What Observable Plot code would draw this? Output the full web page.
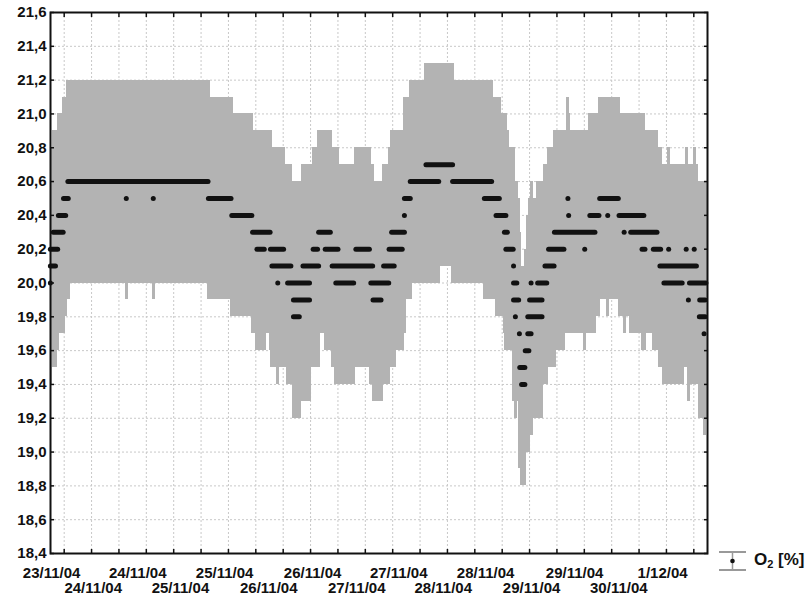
<!DOCTYPE html>
<html>
<head>
<meta charset="utf-8">
<script src="https://cdn.jsdelivr.net/npm/d3@7"></script>
<script src="https://cdn.jsdelivr.net/npm/@observablehq/plot@0.6"></script>
<style>
  html, body { margin: 0; padding: 0; background: #fff; }
  #wrap { position: relative; width: 807px; height: 597px; font-family: "Liberation Sans", Arial, sans-serif; }
  #legend { position: absolute; left: 718px; top: 549px; display: flex; align-items: center; font-size: 17px; font-weight: bold; color: #111; }
  #legend svg { margin-right: 6px; }
  #legend sub { font-size: 11px; vertical-align: -3px; }
</style>
</head>
<body>
<div id="wrap"></div>
<script>
// ---- Data (x = hours since the start of the record, y = O2 [%]) ----
// Runs of consecutive samples at each O2 level: [start hour, end hour]
const o2_20_7 = [[103.0, 110.3]];
const o2_20_6 = [[4.9, 43.3], [98.7, 106.5], [110.3, 121.0]];
const o2_20_5 = [[3.7, 5.0], [20.9, 20.9], [28.3, 28.3], [43.4, 49.6], [97.1, 98.7], [119.0, 123.1], [141.9, 141.9], [150.6, 155.7]];
const o2_20_4 = [[2.3, 4.3], [49.8, 55.3], [97.1, 97.1], [122.2, 124.9], [142.1, 142.1], [147.9, 150.4], [152.8, 152.8], [155.9, 162.7]];
const o2_20_3 = [[0.9, 3.6], [55.5, 60.3], [73.6, 76.8], [93.6, 97.1], [124.5, 125.3], [138.2, 149.3], [157.3, 157.3], [159.1, 166.3]];
const o2_20_2 = [[0.1, 2.1], [56.7, 58.7], [60.4, 64.0], [72.1, 73.3], [75.4, 78.9], [83.8, 87.5], [92.9, 96.5], [124.9, 126.9], [136.6, 140.8], [146.5, 146.5], [162.2, 163.0], [165.3, 167.3], [169.5, 169.5], [174.3, 174.3], [176.5, 176.5]];
const o2_20_1 = [[0.1, 1.5], [60.8, 66.0], [69.3, 73.6], [77.3, 88.4], [91.4, 94.3], [127.0, 127.0], [135.6, 138.1], [167.1, 177.1]];
const o2_20_0 = [[0.1, 0.1], [62.4, 62.4], [65.1, 71.1], [78.3, 83.2], [87.9, 92.8], [127.0, 127.9], [131.8, 131.8], [133.6, 136.1], [168.2, 173.2], [175.2, 179.7]];
const o2_19_9 = [[66.7, 71.1], [88.5, 90.7], [127.0, 128.4], [131.4, 134.8], [174.9, 174.9], [178.0, 179.5]];
const o2_19_8 = [[66.7, 68.3], [127.5, 127.5], [130.9, 134.8], [177.9, 179.5]];
const o2_19_7 = [[128.6, 128.6], [130.9, 131.8], [179.2, 179.2]];
const o2_19_6 = [[130.2, 131.2]];
const o2_19_5 = [[128.7, 130.1]];
const o2_19_4 = [[129.2, 130.1]];

// error-bar half width (O2 %)
const o2Error = 0.6;

const xDomain = [0, 180];
const yDomain = [18.4, 21.6];
const yTicks = [18.4, 18.6, 18.8, 19.0, 19.2, 19.4, 19.6, 19.8, 20.0, 20.2, 20.4, 20.6, 20.8, 21.0, 21.2, 21.4, 21.6];
const xTicks = [3.75, 11.25, 18.75, 26.25, 33.75, 41.25, 48.75, 56.25, 63.75, 71.25, 78.75, 86.25,
                93.75, 101.25, 108.75, 116.25, 123.75, 131.25, 138.75, 146.25, 153.75, 161.25, 168.75, 176.25];
const xLabelTopPos = [0.3, 23.9, 47.7, 71.8, 95.4, 119.2, 143.6, 167.7];
const xLabelTopText = ["23/11/04", "24/11/04", "25/11/04", "26/11/04", "27/11/04", "28/11/04", "29/11/04", "1/12/04"];
const xLabelBottomPos = [11.7, 35.6, 59.8, 83.9, 107.6, 131.8, 155.7];
const xLabelBottomText = ["24/11/04", "25/11/04", "26/11/04", "27/11/04", "28/11/04", "29/11/04", "30/11/04"];

// ---- Build table ----
const levelTable = [
  [20.7, o2_20_7], [20.6, o2_20_6], [20.5, o2_20_5], [20.4, o2_20_4], [20.3, o2_20_3],
  [20.2, o2_20_2], [20.1, o2_20_1], [20.0, o2_20_0], [19.9, o2_19_9], [19.8, o2_19_8],
  [19.7, o2_19_7], [19.6, o2_19_6], [19.5, o2_19_5], [19.4, o2_19_4]
];
const runs = levelTable.flatMap(([v, segs]) => segs.map(([a, b]) => ({v, a, b})));

const topMap = new Map(xLabelTopPos.map((p, i) => [p, xLabelTopText[i]]));
const botMap = new Map(xLabelBottomPos.map((p, i) => [p, xLabelBottomText[i]]));
const fmtY = d => d.toFixed(1).replace(".", ",");
const pad = 0.4;
const font = "'Liberation Sans', Arial, sans-serif";

const chart = Plot.plot({
  width: 807,
  height: 597,
  marginLeft: 50,
  marginRight: 100,
  marginTop: 12,
  marginBottom: 44,
  x: {domain: xDomain, axis: null},
  y: {domain: yDomain, axis: null},
  style: {fontFamily: font, background: "white", color: "#111"},
  marks: [
    Plot.ruleX(xTicks, {stroke: "#c8c8c8", strokeDasharray: "2,2", strokeWidth: 1}),
    Plot.ruleY(yTicks, {stroke: "#c8c8c8", strokeDasharray: "2,2", strokeWidth: 1}),
    Plot.rect(runs, {
      x1: d => d.a - pad, x2: d => d.b + pad,
      y1: d => d.v - o2Error, y2: d => d.v + o2Error,
      fill: "#b3b3b3", clip: true, shapeRendering: "crispEdges"
    }),
    Plot.ruleY(runs, {y: "v", x1: "a", x2: "b", stroke: "#111", strokeWidth: 5, strokeLinecap: "round"}),
    // inward tick marks on all four sides
    Plot.axisY({anchor: "left", ticks: yTicks, tickSize: 4, dx: 4, tickFormat: () => "", label: null, strokeWidth: 1.5}),
    Plot.axisY({anchor: "right", ticks: yTicks, tickSize: 4, dx: -4, tickFormat: () => "", label: null, strokeWidth: 1.5}),
    Plot.axisX({anchor: "top", ticks: xTicks, tickSize: 4, dy: 4, tickFormat: () => "", label: null, strokeWidth: 1.5}),
    Plot.axisX({anchor: "bottom", ticks: xTicks, tickSize: 4, dy: -4, tickFormat: () => "", label: null, strokeWidth: 1.5}),
    // labels
    Plot.axisY({anchor: "left", ticks: yTicks, tickSize: 0, tickPadding: 4, tickFormat: fmtY, label: null,
                fontSize: 15, fontWeight: "bold", fill: "#111"}),
    Plot.axisX({anchor: "bottom", ticks: xLabelTopPos, tickSize: 0, tickPadding: 14, tickFormat: d => topMap.get(d), label: null,
                fontSize: 15, fontWeight: "bold", fill: "#111"}),
    Plot.axisX({anchor: "bottom", ticks: xLabelBottomPos, tickSize: 0, tickPadding: 29, tickFormat: d => botMap.get(d), label: null,
                fontSize: 15, fontWeight: "bold", fill: "#111"}),
    Plot.frame({stroke: "#111", strokeWidth: 2})
  ]
});

const wrap = document.getElementById("wrap");
wrap.appendChild(chart);

const legend = document.createElement("div");
legend.id = "legend";
legend.innerHTML =
  '<svg width="30" height="22" viewBox="0 0 30 22">' +
  '<line x1="1" y1="3" x2="28" y2="3" stroke="#999" stroke-width="2"/>' +
  '<line x1="1" y1="21" x2="28" y2="21" stroke="#999" stroke-width="2"/>' +
  '<line x1="14.5" y1="3" x2="14.5" y2="21" stroke="#999" stroke-width="1.5"/>' +
  '<circle cx="14.5" cy="12" r="2.3" fill="#111"/></svg>' +
  '<span>O<sub>2</sub> [%]</span>';
wrap.appendChild(legend);
</script>
</body>
</html>
